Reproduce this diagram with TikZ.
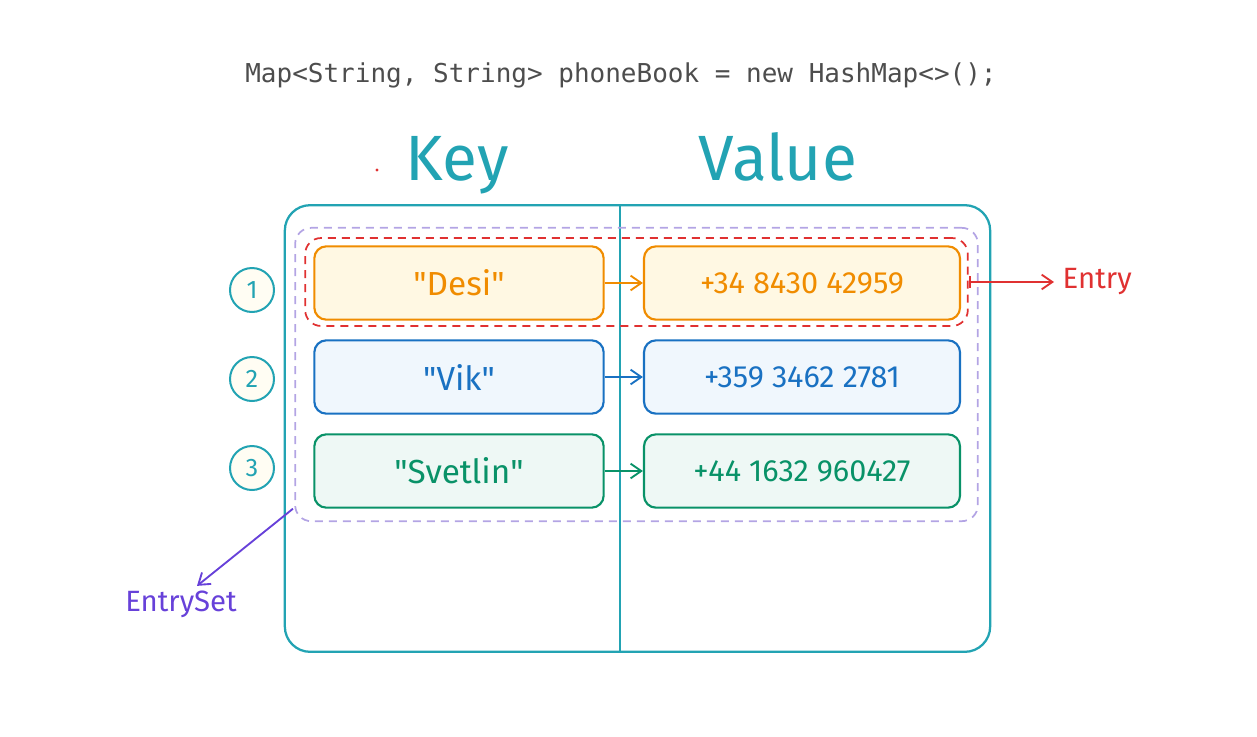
\documentclass[tikz,border=0pt]{standalone}
\usepackage{fontspec}
\setmainfont{Fira Sans}
\setmonofont{DejaVu Sans Mono}
\usetikzlibrary{arrows.meta}
\definecolor{kteal}{HTML}{22A3B3}
\definecolor{korange}{HTML}{F08C00}
\definecolor{kofill}{HTML}{FFF8E3}
\definecolor{kblue}{HTML}{1971C2}
\definecolor{kbfill}{HTML}{F0F7FD}
\definecolor{kgreen}{HTML}{099268}
\definecolor{kgfill}{HTML}{EEF8F5}
\definecolor{kred}{HTML}{E03131}
\definecolor{kviolet}{HTML}{6741D9}
\definecolor{klav}{HTML}{B3A4E4}
\definecolor{numfill}{HTML}{FFFDF3}
\definecolor{codegray}{HTML}{4D4D4D}
\newcommand{\qt}[1]{\textquotedbl#1\textquotedbl}
\tikzset{
  box/.style={draw, rounded corners=9pt, line width=1.6pt, minimum height=55pt},
  numcirc/.style={circle, draw=kteal, fill=numfill, line width=1.5pt, minimum size=33pt,
    inner sep=0pt, text=kteal, font=\fontsize{19}{22}\selectfont},
  link/.style={-{Straight Barb[length=8pt,width=11pt]}, line width=1.4pt},
  dashbox/.style={draw, dash pattern=on 6pt off 4.5pt, rounded corners=12pt, line width=1.3pt},
  head/.style={text=kteal, font=\fontsize{48}{56}\selectfont, anchor=base},
}
\begin{document}
\begin{tikzpicture}[x=0.75pt, y=-0.75pt]
  \useasboundingbox (0,0) rectangle (1257,736);
  % declaration
  \node[anchor=base, text=codegray, font=\ttfamily\fontsize{19.5}{23}\selectfont] (code) at (621,82)
    {Map<String, String> phoneBook = new HashMap<>();};
  \node[head] (keyhd) at (457,180) {Key};
  \node[head] (valhd) at (778,180) {Value};
  \fill[kred] (377,170) circle (1.3pt);
  % map frame
  \node[draw=kteal, line width=1.7pt, rounded corners=19pt, minimum width=529pt, minimum height=335pt]
    (map) at (637.5,428.5) {};
  \coordinate (div) at (620,0);
  \draw[kteal, line width=1.7pt] (map.north -| div) -- (map.south -| div);
  % entry set and entry
  \node[dashbox, draw=klav, minimum width=512pt, minimum height=220pt] (set) at (636.5,374.5) {};
  \node[dashbox, draw=kred, minimum width=497pt, minimum height=66pt] (entry) at (636.5,282) {};
  % rows
  \foreach \n/\y/\cy/\col/\fc/\key/\val in
    {1/283/290/korange/kofill/Desi/+34 8430 42959,
     2/377/379/kblue/kbfill/Vik/+359 3462 2781,
     3/471/468/kgreen/kgfill/Svetlin/+44 1632 960427}
  {
    \node[numcirc] (num\n) at (252,\cy) {\n};
    \node[box, draw=\col, fill=\fc, text=\col, minimum width=217pt,
      font=\fontsize{25}{29}\selectfont] (key\n) at (459,\y) {\qt{\key}};
    \node[box, draw=\col, fill=\fc, text=\col, minimum width=237pt,
      font=\fontsize{23}{27}\selectfont] (val\n) at (802,\y) {\val};
    \draw[link, \col] (key\n) -- (val\n);
  }
  % labels
  \node[anchor=west, text=kred, font=\fontsize{22}{26}\selectfont] (entrylb) at (1058,282) {Entry};
  \draw[kred, line width=1.4pt, {Bar[width=9pt]}-{Straight Barb[length=8pt,width=11pt]}, shorten >=3pt]
    (entry.east) -- (entrylb.west);
  \node[text=kviolet, font=\fontsize{22}{26}\selectfont] (setlb) at (181,604) {EntrySet};
  \draw[kviolet, link] ([xshift=-1pt, yshift=10pt]set.south west) -- ([xshift=12pt]setlb.north);
\end{tikzpicture}
\end{document}
